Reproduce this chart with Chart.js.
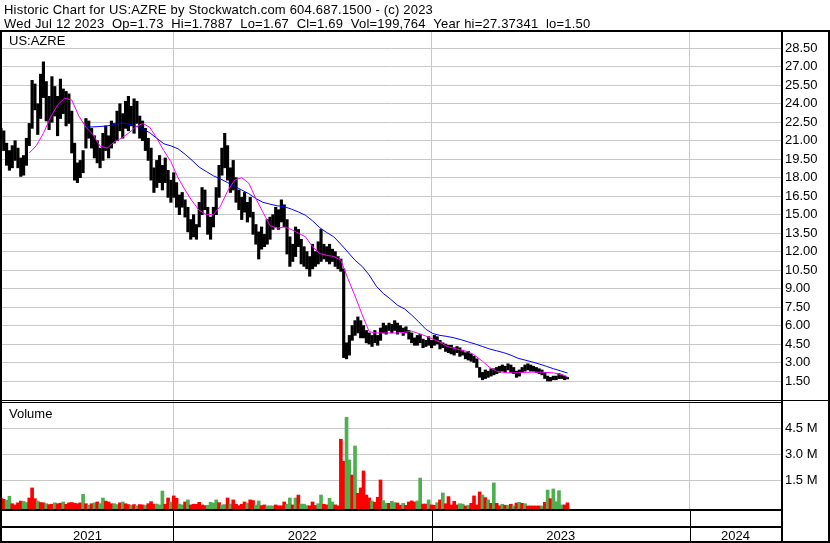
<!DOCTYPE html>
<html>
<head>
<meta charset="utf-8">
<title>Historic Chart for US:AZRE</title>
<script src="https://cdn.jsdelivr.net/npm/chart.js@4.4.0/dist/chart.umd.min.js"></script>
<style>
  html, body { margin: 0; padding: 0; background: #fff; }
  #wrap { width: 830px; height: 543px; }
</style>
</head>
<body>
<div id="wrap"><canvas id="chart" width="830" height="543"></canvas></div>
<script>
// price bars, one sample every 4 calendar days from 2021-05-03
const firstDate = '2021-05-03';
const sampleDays = 4;

const highs = [
  22.0,21.8,20.8,20.2,20.6,21.0,20.4,19.6,19.8,21.2,
  22.4,25.9,25.6,24.0,26.4,27.4,25.8,24.6,26.2,25.4,
  24.6,26.0,25.2,25.0,24.8,23.4,20.8,19.2,19.4,20.2,
  22.8,22.6,22.0,21.4,21.0,20.4,21.6,22.2,21.4,22.6,
  22.4,23.4,24.0,23.2,24.2,24.6,23.8,24.4,24.2,23.0,
  22.6,22.0,21.2,20.4,18.8,19.4,19.8,19.0,19.6,18.6,
  17.8,18.4,17.6,16.6,16.8,16.2,15.6,14.6,15.0,14.2,
  16.0,17.2,17.0,15.6,14.8,15.6,17.2,19.0,20.4,21.6,
  20.6,18.8,19.4,18.0,17.0,16.4,16.8,16.0,16.4,15.2,
  14.2,13.6,14.0,13.4,14.6,14.8,15.0,15.6,15.4,16.2,
  15.8,14.6,13.2,12.6,14.0,13.8,13.0,12.4,12.0,11.6,
  12.6,12.0,12.8,13.8,12.6,12.4,12.6,12.2,12.0,11.6,
  11.4,10.6,4.6,5.2,6.0,6.4,6.7,6.4,6.0,5.6,
  5.4,5.2,5.6,5.2,5.8,6.2,6.0,6.2,6.1,6.4,
  6.2,6.0,5.8,5.9,5.6,5.4,5.0,5.2,5.3,4.9,
  4.8,5.1,4.8,5.2,5.1,4.8,4.6,4.5,4.4,4.4,
  4.2,4.3,4.2,4.0,3.8,3.9,3.7,3.5,3.3,2.6,
  2.2,2.4,2.3,2.5,2.5,2.6,2.7,2.8,2.7,2.9,
  2.8,2.6,2.3,2.4,2.6,2.8,2.9,2.8,2.7,2.6,
  2.5,2.4,2.2,1.9,1.8,1.9,1.9,2.1,2.0,1.9,
  1.7887
];

const lows = [
  20.6,20.2,19.0,18.6,18.8,19.4,18.8,18.1,18.2,19.0,
  20.6,22.0,23.5,21.5,22.8,24.5,22.6,21.9,22.5,23.0,
  21.4,22.8,23.2,22.2,22.4,20.0,17.8,17.6,18.0,18.4,
  20.4,21.2,20.4,19.6,19.2,18.8,19.4,20.2,19.6,20.4,
  20.8,21.0,21.8,21.2,22.0,21.8,22.2,21.6,22.4,21.2,
  21.0,20.2,19.4,17.8,16.8,17.2,17.6,17.0,17.6,16.4,
  16.0,16.4,15.6,15.0,15.6,14.8,13.6,13.0,13.2,13.0,
  14.0,15.0,15.4,13.4,13.0,14.0,15.0,16.4,18.2,18.8,
  17.8,16.8,17.0,16.0,15.4,14.6,15.2,14.4,14.8,13.4,
  12.6,11.4,12.2,12.4,12.6,13.0,13.8,14.0,13.8,14.4,
  14.0,11.8,10.8,11.2,11.6,12.4,11.0,10.8,10.6,10.0,
  10.6,10.8,11.0,11.2,11.4,11.2,11.0,11.2,10.8,10.6,
  10.4,3.4,3.3,3.6,4.8,5.2,5.4,5.0,5.0,4.6,
  4.5,4.3,4.6,4.4,4.8,5.4,5.3,5.6,5.4,5.6,
  5.3,5.5,5.2,5.4,4.9,4.6,4.4,4.4,4.6,4.2,
  4.3,4.4,4.2,4.4,4.5,4.1,4.2,3.9,3.8,3.7,
  3.6,3.8,3.5,3.6,3.3,3.2,3.1,3.0,2.6,1.8,
  1.6,1.7,1.8,1.9,2.0,2.1,2.2,2.3,2.2,2.4,
  2.2,2.1,1.8,1.9,2.2,2.3,2.4,2.3,2.3,2.2,
  2.1,2.0,1.7,1.5,1.5,1.6,1.6,1.7,1.7,1.6,
  1.67
];

// volume in millions of shares, same sampling; r = down day, g = up day
const volumeM = [
  0.48,0.40,0.35,0.58,0.15,0.08,0.20,0.30,0.28,0.22,
  0.48,1.06,0.44,0.30,0.22,0.20,0.15,0.10,0.12,0.20,
  0.15,0.18,0.25,0.12,0.20,0.22,0.18,0.15,0.20,0.69,
  0.15,0.06,0.15,0.20,0.25,0.15,0.48,0.30,0.25,0.15,
  0.15,0.10,0.20,0.25,0.15,0.10,0.06,0.10,0.03,0.10,
  0.08,0.05,0.15,0.27,0.12,0.13,0.08,0.88,0.12,0.48,
  0.25,0.60,0.46,0.13,0.08,0.25,0.37,0.08,0.12,0.12,
  0.23,0.08,0.04,0.06,0.23,0.19,0.37,0.21,0.08,0.10,
  0.48,0.12,0.37,0.12,0.04,0.12,0.25,0.17,0.37,0.33,
  0.08,0.31,0.04,0.08,0.02,0.03,0.02,0.08,0.03,0.03,
  0.25,0.12,0.48,0.08,0.48,0.65,0.13,0.12,0.04,0.03,
  0.25,0.05,0.15,0.65,0.12,0.08,0.46,0.25,0.08,0.03,
  3.87,2.60,5.13,2.67,1.80,3.48,0.75,1.06,2.04,0.65,
  0.48,0.31,0.23,0.52,1.52,0.33,0.17,0.17,0.29,0.21,
  0.19,0.06,0.17,0.06,0.25,0.31,0.25,0.31,1.63,0.13,
  0.13,0.37,0.08,0.06,0.21,0.37,0.77,0.15,0.56,0.08,
  0.29,0.08,0.15,0.13,0.02,0.06,0.17,0.60,0.08,0.83,
  0.65,0.50,0.37,0.17,1.35,0.17,0.03,0.12,0.06,0.06,
  0.12,0.02,0.19,0.23,0.17,0.15,0.02,0.02,0.02,0.02,
  0.02,0.02,0.23,0.94,0.44,1.00,0.27,0.90,0.08,0.08,
  0.20
];
const volumeDir =
  'rrggrrrrgg' + 'rrrgrrgrrg' + 'rrgrrrrrrg' + 'rgrgrggrrr' + 'ggrgrrgrgr' +
  'rgrrrgggrr' + 'grrggrgrrr' + 'rrrggggrgg' + 'rgrrrrrgrr' + 'ggrrgggrrr' +
  'rggrgrgggr' + 'rrggrrggrr' + 'rrggrgrrrr' + 'rgrrrggrgg' + 'rrgrrrrggr' +
  'rgrrgrgrrr' + 'rrggrgrrrr' + 'grgrgrrgrg' + 'rgrgrgrrrr' + 'rgrgrggggr' + 'r';

// moving averages, one value every 10 days from firstDate
const maDays = 10;
const fastMA = [
  null,null,null,null,
  20.0,20.6,21.6,22.9,23.9,24.45,24.3,23.0,22.1,21.5,
  20.55,20.4,20.9,21.2,21.6,22.1,22.4,22.1,21.2,20.2,
  19.3,18.0,17.0,16.1,15.35,15.0,15.0,15.7,16.9,17.8,
  18.0,17.55,16.3,15.2,14.1,13.9,14.0,13.8,13.5,13.2,
  12.4,11.85,11.7,11.6,11.3,9.8,8.4,6.9,5.5,5.4,
  5.4,5.4,5.4,5.45,5.55,5.35,5.15,4.9,4.65,4.3,
  4.15,4.0,3.87,3.55,3.1,2.6,2.3,2.2,2.15,2.17,
  2.2,2.22,2.22,2.2,2.16,2.05,1.85
];
const slowMA = [
  null,null,null,null,null,null,null,null,null,null,null,null,
  22.1,22.12,22.15,22.2,22.3,22.44,22.35,22.2,21.97,21.65,
  21.2,20.75,20.58,20.35,19.9,19.4,18.85,18.5,18.15,17.9,
  17.6,17.3,17.0,16.7,16.3,16.0,15.85,15.72,15.65,15.45,
  15.22,14.95,14.5,13.95,13.55,13.2,12.6,11.95,11.3,10.8,
  10.1,9.2,8.6,8.15,7.65,7.35,6.85,6.3,5.7,5.35,
  5.2,5.12,5.0,4.85,4.67,4.5,4.3,4.1,3.95,3.8,
  3.6,3.35,3.2,3.05,2.88,2.7,2.5,2.33,2.15
];

const priceTicks = [1.5,3,4.5,6,7.5,9,10.5,12,13.5,15,16.5,18,19.5,21,22.5,24,25.5,27,28.5];
const volumeTicks = [1.5, 3.0, 4.5];
const years = ['2021', '2022', '2023', '2024'];
const headerLines = [
  'Historic Chart for US:AZRE by Stockwatch.com 604.687.1500 - (c) 2023',
  'Wed Jul 12 2023  Op=1.73  Hi=1.7887  Lo=1.67  Cl=1.69  Vol=199,764  Year hi=27.37341  lo=1.50'
];
const symbol = 'US:AZRE';

const FONT = '"Liberation Sans", Arial, sans-serif';

function dayOf(str) {
  const [y, m, d] = str.split('-').map(Number);
  return (Date.UTC(y, m - 1, d) - Date.UTC(2021, 0, 1)) / 864e5;
}

const day0 = dayOf(firstDate);
const pricePts = highs.map((h, i) => ({ x: day0 + i * sampleDays, y: [lows[i], h] }));
const volPts = volumeM.map((v, i) => ({ x: day0 + i * sampleDays, y: v }));
const volColors = volumeM.map((v, i) => volumeDir[i] === 'g' ? '#4caf50' : '#ff0000');
const maPts = arr => arr.map((v, k) => ({ x: day0 + k * maDays, y: v })).filter(p => p.y !== null);

const yearStarts = years.slice(1).map(y => dayOf(y + '-01-01'));
const xMin = 123.5, xMax = 1223.5;
const volMin = -0.156;

// borders, header and the year strip underneath
const framePlugin = {
  id: 'frame',
  beforeDraw(chart) {
    const c = chart.ctx;
    c.save();
    c.fillStyle = '#fff';
    c.fillRect(0, 0, chart.width, chart.height);
    c.restore();
  },
  afterDraw(chart) {
    const c = chart.ctx;
    const xs = chart.scales.x;
    const area = chart.chartArea;
    c.save();
    c.fillStyle = '#000';
    c.fillRect(0, 30, 830, 2);
    c.fillRect(0, 30, 2, 513);
    c.fillRect(781, 30, 2, 513);
    c.fillRect(828, 30, 2, 513);
    c.fillRect(0, 400, 830, 1);
    c.fillRect(0, 402, 781, 1);
    c.fillRect(0, 509, 783, 2);
    c.fillRect(0, 526, 783, 2);
    c.fillRect(0, 541, 830, 2);

    const bounds = [area.left, ...yearStarts.map(d => xs.getPixelForValue(d)), area.right];
    yearStarts.forEach(d => {
      const px = Math.round(xs.getPixelForValue(d));
      c.fillRect(px, 511, 1, 30);
    });

    c.font = '13px ' + FONT;
    c.textBaseline = 'alphabetic';
    c.textAlign = 'center';
    years.forEach((y, i) => {
      c.fillText(y, (bounds[i] + bounds[i + 1]) / 2, 540);
    });

    c.textAlign = 'left';
    c.fillText(symbol, 9, 45);
    c.fillText('Volume', 9, 418);
    c.letterSpacing = '0.2px';
    c.fillText(headerLines[0], 4, 13.5);
    c.fillText(headerLines[1], 4, 28);
    c.restore();
  }
};

const tickFont = { family: FONT, size: 13 };

new Chart(document.getElementById('chart'), {
  type: 'bar',
  data: {
    datasets: [
      {
        type: 'line', data: maPts(fastMA), borderColor: '#ff00ff', borderWidth: 1,
        pointRadius: 0, yAxisID: 'y', order: 0
      },
      {
        type: 'line', data: maPts(slowMA), borderColor: '#0000ff', borderWidth: 1,
        pointRadius: 0, yAxisID: 'y', order: 1
      },
      {
        type: 'bar', data: pricePts, backgroundColor: '#000', barThickness: 2.5,
        grouped: false, yAxisID: 'y', order: 2
      },
      {
        type: 'bar', data: volPts, backgroundColor: volColors, barThickness: 3,
        grouped: false, yAxisID: 'yv', base: volMin, order: 3
      }
    ]
  },
  options: {
    responsive: false,
    animation: false,
    devicePixelRatio: 1,
    layout: { padding: { left: 2, top: 32, right: 0, bottom: 34 } },
    plugins: { legend: { display: false }, tooltip: { enabled: false } },
    scales: {
      x: {
        type: 'linear', min: xMin, max: xMax, offset: false,
        grid: { color: '#c8c8c8', drawTicks: false, offset: false },
        border: { display: false },
        ticks: { display: false },
        afterBuildTicks: s => { s.ticks = yearStarts.map(v => ({ value: v })); },
        afterFit: s => { s.height = 0; }
      },
      y: {
        position: 'right', stack: 'panels', stackWeight: 368,
        min: -0.04, max: 29.82,
        grid: { color: '#c8c8c8', drawTicks: false },
        border: { display: false },
        ticks: {
          padding: 4, color: '#000', font: tickFont, autoSkip: false,
          callback: v => v.toFixed(2)
        },
        afterBuildTicks: s => { s.ticks = priceTicks.map(v => ({ value: v })); },
        afterFit: s => { s.width = 49; }
      },
      yv: {
        position: 'right', stack: 'panels', stackWeight: 109,
        min: volMin, max: 6.133,
        grid: { color: '#c8c8c8', drawTicks: false },
        border: { display: false },
        ticks: {
          padding: 4, color: '#000', font: tickFont, autoSkip: false,
          callback: v => v.toFixed(1) + ' M'
        },
        afterBuildTicks: s => { s.ticks = volumeTicks.map(v => ({ value: v })); },
        afterFit: s => { s.width = 49; }
      }
    }
  },
  plugins: [framePlugin]
});
</script>
</body>
</html>
